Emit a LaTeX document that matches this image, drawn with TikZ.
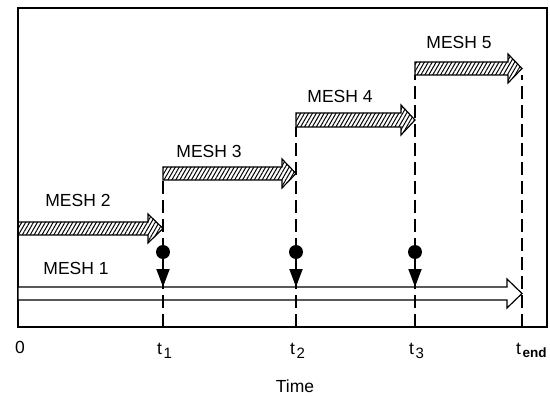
\documentclass[tikz,border=0pt]{standalone}
\usepackage{fontspec}
\setmainfont{Liberation Sans}
\usetikzlibrary{arrows.meta, patterns.meta}

\begin{document}
\begin{tikzpicture}[x=1pt, y=-1pt,
    frame/.style={draw, line width=1.3pt},
    meshbar/.style={draw, line width=1.2pt, line join=miter,
                    pattern={Lines[angle=60, distance=3.4pt, line width=1pt]}},
    plainbar/.style={draw, line width=1.2pt, fill=white},
    timeline/.style={draw, line width=1.6pt, dash pattern=on 13pt off 6pt},
    marker/.style={circle, fill=black, inner sep=0pt, minimum size=14pt},
    drop/.style={-{Triangle[length=18pt, width=13pt]}, line width=1.8pt},
    meshlabel/.style={font=\fontsize{17.5}{19}\selectfont, inner sep=0pt},
    timelabel/.style={font=\fontsize{17.5}{19}\selectfont, inner sep=0pt, anchor=base west}
]
    \useasboundingbox (0,0) rectangle (550,396);

    % time marks on the lower edge
    \coordinate (t0) at (18,327);
    \coordinate (t1) at (163,327);
    \coordinate (t2) at (296,327);
    \coordinate (t3) at (415,327);
    \coordinate (tend) at (522,327);

    \draw[frame] (18,8) rectangle (547,327);

    % mesh 1, runs over the whole time span
    \draw[plainbar] (18,287) -- (507,287) -- (507,279) -- (522,293.5)
        -- (507,308) -- (507,300) -- (18,300) -- cycle;

    % the finer meshes
    \draw[meshbar] (18,222) -- (148,222) -- (148,214) -- (163,228.5)
        -- (148,243) -- (148,235) -- (18,235) -- cycle;
    \draw[meshbar] (163,167) -- (282,167) -- (282,159) -- (296,173.5)
        -- (282,188) -- (282,180) -- (163,180) -- cycle;
    \draw[meshbar] (296,113) -- (401,113) -- (401,105) -- (415,120)
        -- (401,135) -- (401,127) -- (296,127) -- cycle;
    \draw[meshbar] (415,62) -- (508,62) -- (508,54) -- (522,68.5)
        -- (508,83) -- (508,75) -- (415,75) -- cycle;

    \draw[timeline] (t1) -- ++(0,-147);
    \draw[timeline] (t2) -- ++(0,-200);
    \draw[timeline] (t3) -- ++(0,-252);
    \draw[timeline] (tend) -- ++(0,-252);

    % transfer onto mesh 1
    \coordinate (h1) at (163,287);
    \coordinate (h2) at (296,287);
    \coordinate (h3) at (415,287);
    \node[marker] (d1) at (163,252) {};
    \node[marker] (d2) at (296,252) {};
    \node[marker] (d3) at (415,252) {};
    \draw[drop] (d1.center) -- (h1);
    \draw[drop] (d2.center) -- (h2);
    \draw[drop] (d3.center) -- (h3);

    \node[meshlabel] (m1) at (76,268) {MESH 1};
    \node[meshlabel] (m2) at (78,200) {MESH 2};
    \node[meshlabel] (m3) at (209,151) {MESH 3};
    \node[meshlabel] (m4) at (340,96) {MESH 4};
    \node[meshlabel] (m5) at (459,42) {MESH 5};

    \node[timelabel, anchor=base] (l0) at (20,353) {0};
    \node[timelabel] (l1) at (157,354) {t\kern1.5pt\raisebox{-4pt}{\fontsize{15}{16}\selectfont 1}};
    \node[timelabel] (l2) at (290,354) {t\kern1.5pt\raisebox{-4pt}{\fontsize{15}{16}\selectfont 2}};
    \node[timelabel] (l3) at (409,354) {t\kern1.5pt\raisebox{-4pt}{\fontsize{15}{16}\selectfont 3}};
    \node[timelabel] (le) at (516,354) {t\kern1.5pt\raisebox{-3pt}{\fontsize{13.5}{14}\selectfont\bfseries end}};
    \node[meshlabel, anchor=base] (time) at (295,392) {Time};
\end{tikzpicture}
\end{document}
